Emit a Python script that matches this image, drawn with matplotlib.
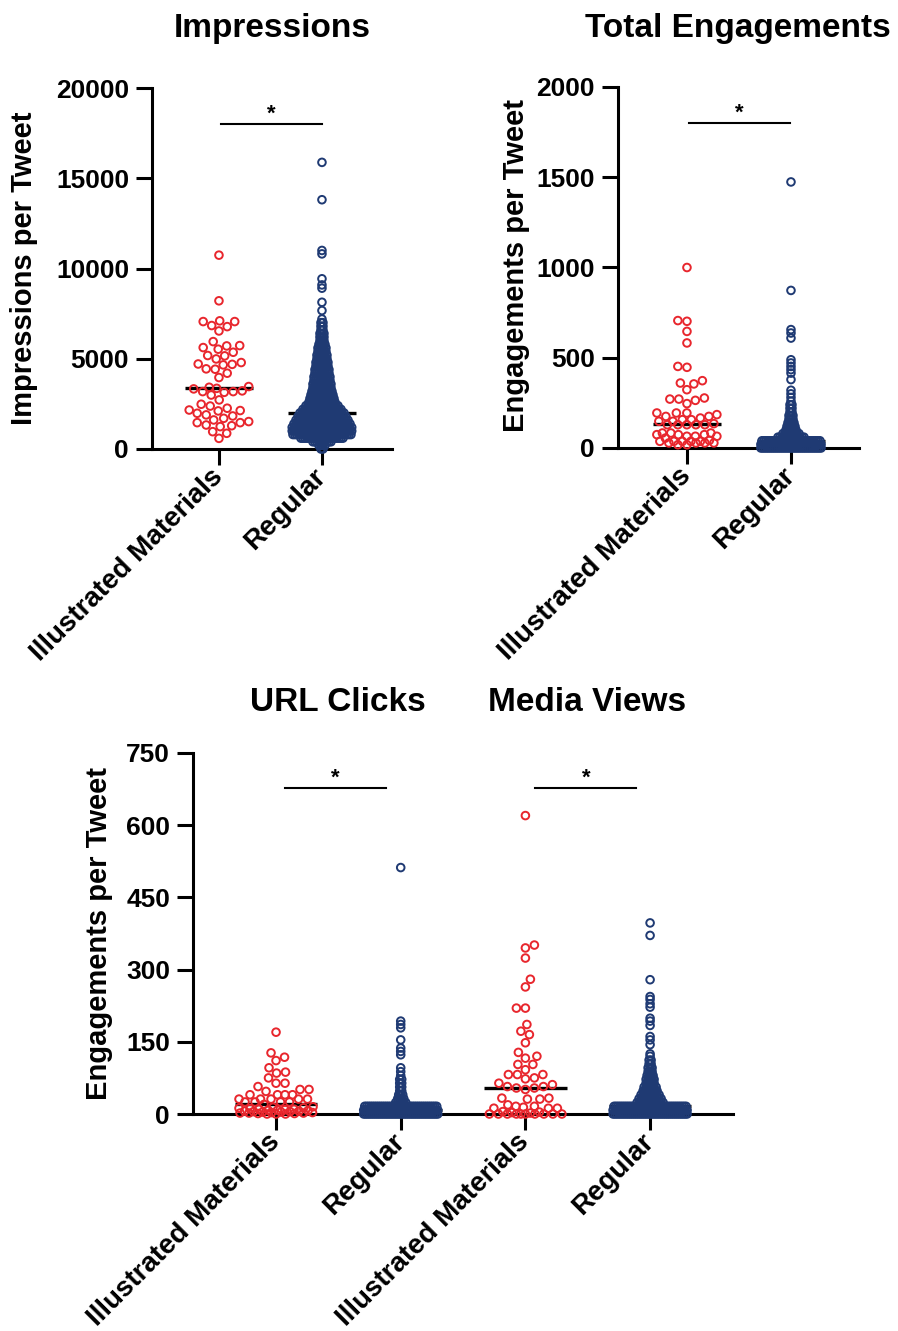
import numpy as np
import matplotlib
matplotlib.use('Agg')
import matplotlib.pyplot as plt
from matplotlib.transforms import offset_copy

plt.rcParams['font.family'] = ['Liberation Sans', 'DejaVu Sans']
plt.rcParams['font.weight'] = 'bold'

RED = '#e8262d'
NAVY = '#1f3a73'

groups = ['Illustrated Materials', 'Regular']

# Impressions per tweet
impr_illus = [10740, 8210, 7100, 7060, 7060, 6840, 6780, 6540, 5950, 5710, 5620, 5730, 5530,
              5360, 5180, 5160, 4990, 4790, 4710, 4690, 4660, 4440, 4420, 4200, 3960, 3460,
              3420, 3360, 3330, 3220, 3180, 3140, 3180, 2990, 2720, 2480, 2380, 2260, 2160,
              2130, 2110, 1980, 1890, 1830, 1700, 1610, 1520, 1460, 1460, 1330, 1240, 1290,
              960, 870, 590]
impr_reg_vals = [0, 200, 400, 600, 800, 1000, 1200, 1400, 1600, 1800, 2000, 2200, 2400, 2600,
                 2800, 3000, 3200, 3400, 3600, 3800, 4000, 4200, 4400, 4600, 4800, 5000, 5200,
                 5400, 5600, 5800, 6000, 6200, 6400, 6600, 6800, 7000, 7200,
                 7670, 8130, 8910, 9090, 9430, 10810, 11000, 13810, 15880]
impr_reg_counts = [2, 4, 10, 22, 30, 32, 31, 29, 27, 25, 23, 20, 17, 14, 13, 12, 11, 10, 10, 9,
                   9, 8, 8, 7, 7, 6, 6, 5, 5, 4, 3, 3, 3, 2, 2, 2, 1,
                   1, 1, 1, 1, 1, 1, 1, 1, 1]

# Total engagements per tweet
eng_illus = [1000, 702, 706, 646, 582, 447, 452, 373, 360, 355, 323, 277, 271, 264, 246, 271,
             166, 157, 175, 194, 194, 194, 175, 157, 185, 129, 135, 148, 129, 129, 148, 129, 129,
             74, 55, 65, 83, 83, 74, 83, 74, 65, 65, 37, 37, 37, 42, 37, 28, 28, 28, 37, 28, 18, 18]
eng_reg_vals = [0, 20, 40, 60, 80, 100, 120, 140, 160, 180, 200, 220, 240, 260, 280, 300, 320,
                379, 415, 434, 452, 471, 489, 609, 637, 656, 873, 1474]
eng_reg_counts = [32, 32, 30, 14, 9, 6, 5, 4, 3, 3, 2, 2, 2, 1, 1, 1, 1,
                  1, 1, 1, 1, 1, 1, 1, 1, 1, 1, 1]

# URL clicks per tweet
url_illus = [170, 127, 118, 111, 96, 87, 85, 75, 64, 64, 57, 51, 51, 47, 40, 40, 40, 40,
             31, 31, 31, 31, 31, 25, 25, 25, 25, 20, 15, 14, 13, 12, 11, 10, 10, 9, 8, 8, 7,
             6, 6, 5, 5, 4, 4, 3, 3, 2, 2, 2, 1, 1, 0, 0, 0]
url_reg_vals = [0, 8, 16, 24, 32, 40, 48, 56, 64, 72, 80, 88, 96,
                123, 130, 137, 154, 179, 186, 193, 512]
url_reg_counts = [39, 39, 37, 6, 4, 3, 2, 2, 2, 2, 1, 1, 1,
                  1, 1, 1, 1, 1, 1, 1, 1]

# Media views per tweet
media_illus = [620, 351, 345, 324, 280, 264, 220, 220, 186, 172, 165, 148, 128, 120, 116, 103,
               103, 92, 82, 82, 82, 75, 73, 64, 61, 57, 57, 54, 54, 51, 33, 33, 31, 31, 19, 16,
               16, 14, 12, 12, 12, 5, 4, 3, 2, 0, 0, 0, 0, 0, 0, 0, 0, 0, 0]
media_reg_vals = [0, 8, 16, 24, 32, 40, 48, 56, 64, 72, 80, 88, 96, 104, 112, 120,
                  125, 144, 154, 161, 184, 193, 199, 222, 229, 238, 244, 279, 371, 397]
media_reg_counts = [39, 39, 37, 14, 12, 10, 8, 7, 5, 5, 4, 3, 3, 2, 2, 1,
                    1, 1, 1, 1, 1, 1, 1, 1, 1, 1, 1, 1, 1, 1]

W, H = 898, 1331
fig = plt.figure(figsize=(W / 100, H / 100), dpi=100)

MS = 30      # marker size (pt^2)
MLW = 1.4    # marker edge width
MD = 9.5     # outer marker diameter in px


def px_axes(x0, x1, ytop, ybot):
    return fig.add_axes([x0 / W, 1 - ybot / H, (x1 - x0) / W, (ybot - ytop) / H])


def style(ax, xlim, ymax, yticks, labels):
    ax.set_xlim(*xlim)
    ax.set_ylim(0, ymax)
    ax.set_yticks(yticks)
    ax.set_xticks(range(len(labels)))
    ax.set_xticklabels(labels, rotation=45, ha='right', va='center',
                       rotation_mode='anchor', fontsize=20, fontweight='bold')
    for s in ['top', 'right']:
        ax.spines[s].set_visible(False)
    for s in ['left', 'bottom']:
        ax.spines[s].set_linewidth(2.2)
    ax.tick_params(axis='both', direction='out', length=11.5, width=2.2)
    ax.tick_params(axis='y', labelsize=19, pad=5)
    ax.tick_params(axis='x', pad=6)


def px_per_x(ax):
    return ax.transData.transform((1, 0))[0] - ax.transData.transform((0, 0))[0]


def draw_red(ax, xc, vals, dmin=9.0):
    vals = np.asarray(vals, float)
    ppx = px_per_x(ax)
    half = (0.67 * ppx - MD) / 2
    ys = ax.transData.transform(np.column_stack([np.zeros(len(vals)), vals]))[:, 1]
    cand = np.arange(-half, half + 0.01, 0.5)
    cand = cand[np.argsort(np.abs(cand), kind='stable')]
    offs = np.zeros(len(vals))
    px, py = [], []
    for i in np.argsort(ys, kind='stable'):
        x = 0.0
        if px:
            ax_ = np.array(px)
            ay_ = np.array(py)
            near = np.abs(ay_ - ys[i]) < dmin
            if near.any():
                d = np.hypot(cand[:, None] - ax_[near][None, :],
                             ys[i] - ay_[near][None, :]).min(axis=1)
                ok = d >= dmin
                x = cand[np.argmax(ok)] if ok.any() else cand[np.argmax(d)]
        offs[i] = x
        px.append(x)
        py.append(ys[i])
    ax.scatter(xc + offs / ppx, vals, s=MS, facecolors='none', edgecolors=RED,
               linewidths=MLW, clip_on=False, zorder=3)
    ax.hlines(np.median(vals), xc - 0.33, xc + 0.33, color='black', lw=2.4, zorder=2)


def draw_blue(ax, xc, vals, counts, step=2.0):
    ppx = px_per_x(ax)
    cap = 0.67 * ppx - MD
    xs, ys = [], []
    for v, n in zip(vals, counts):
        w = min(step * (n - 1), cap)
        off = np.linspace(-w / 2, w / 2, n) if n > 1 else np.zeros(1)
        xs.extend(xc + off / ppx)
        ys.extend([v] * n)
    ax.scatter(xs, ys, s=MS, facecolors='none', edgecolors=NAVY,
               linewidths=MLW, clip_on=False, zorder=3)
    ax.hlines(np.median(ys), xc - 0.33, xc + 0.33, color='black', lw=2.4, zorder=2)


def sig_bar(ax, x0, x1, y):
    ax.plot([x0, x1], [y, y], color='black', lw=1.5, clip_on=False)
    tr = offset_copy(ax.transData, fig=fig, y=3, units='points')
    ax.text((x0 + x1) / 2, y, '*', ha='center', va='baseline', fontsize=16,
            fontweight='bold', transform=tr)


# Impressions
axA = px_axes(152, 392, 88, 449)
style(axA, (-0.65, 1.68), 20000, [0, 5000, 10000, 15000, 20000], groups)
draw_red(axA, 0, impr_illus)
draw_blue(axA, 1, impr_reg_vals, impr_reg_counts)
sig_bar(axA, 0.02, 1.0, 18000)

# Total engagements
axB = px_axes(618, 859, 87, 448)
style(axB, (-0.663, 1.654), 2000, [0, 500, 1000, 1500, 2000], groups)
draw_red(axB, 0, eng_illus)
draw_blue(axB, 1, eng_reg_vals, eng_reg_counts)
sig_bar(axB, 0.02, 0.99, 1800)

# URL clicks and media views
axC = px_axes(193, 733, 753, 1114)
style(axC, (-0.666, 3.665), 750, [0, 150, 300, 450, 600, 750], groups * 2)
draw_red(axC, 0, url_illus)
draw_blue(axC, 1, url_reg_vals, url_reg_counts)
draw_red(axC, 2, media_illus)
draw_blue(axC, 3, media_reg_vals, media_reg_counts)
sig_bar(axC, 0.07, 0.88, 677)
sig_bar(axC, 2.08, 2.89, 677)

# titles
for x, y, t in [(272, 37, 'Impressions'), (738, 37, 'Total Engagements'),
                (338, 711, 'URL Clicks'), (587, 711, 'Media Views')]:
    fig.text(x / W, 1 - y / H, t, ha='center', va='baseline', fontsize=24, fontweight='bold')

# y labels
for x, y, t in [(24, 268, 'Impressions per Tweet'), (516, 266, 'Engagements per Tweet'),
                (99, 933, 'Engagements per Tweet')]:
    fig.text(x / W, 1 - y / H, t, rotation=90, ha='center', va='center',
             fontsize=21, fontweight='bold')

fig.savefig('out.png', dpi=100)
